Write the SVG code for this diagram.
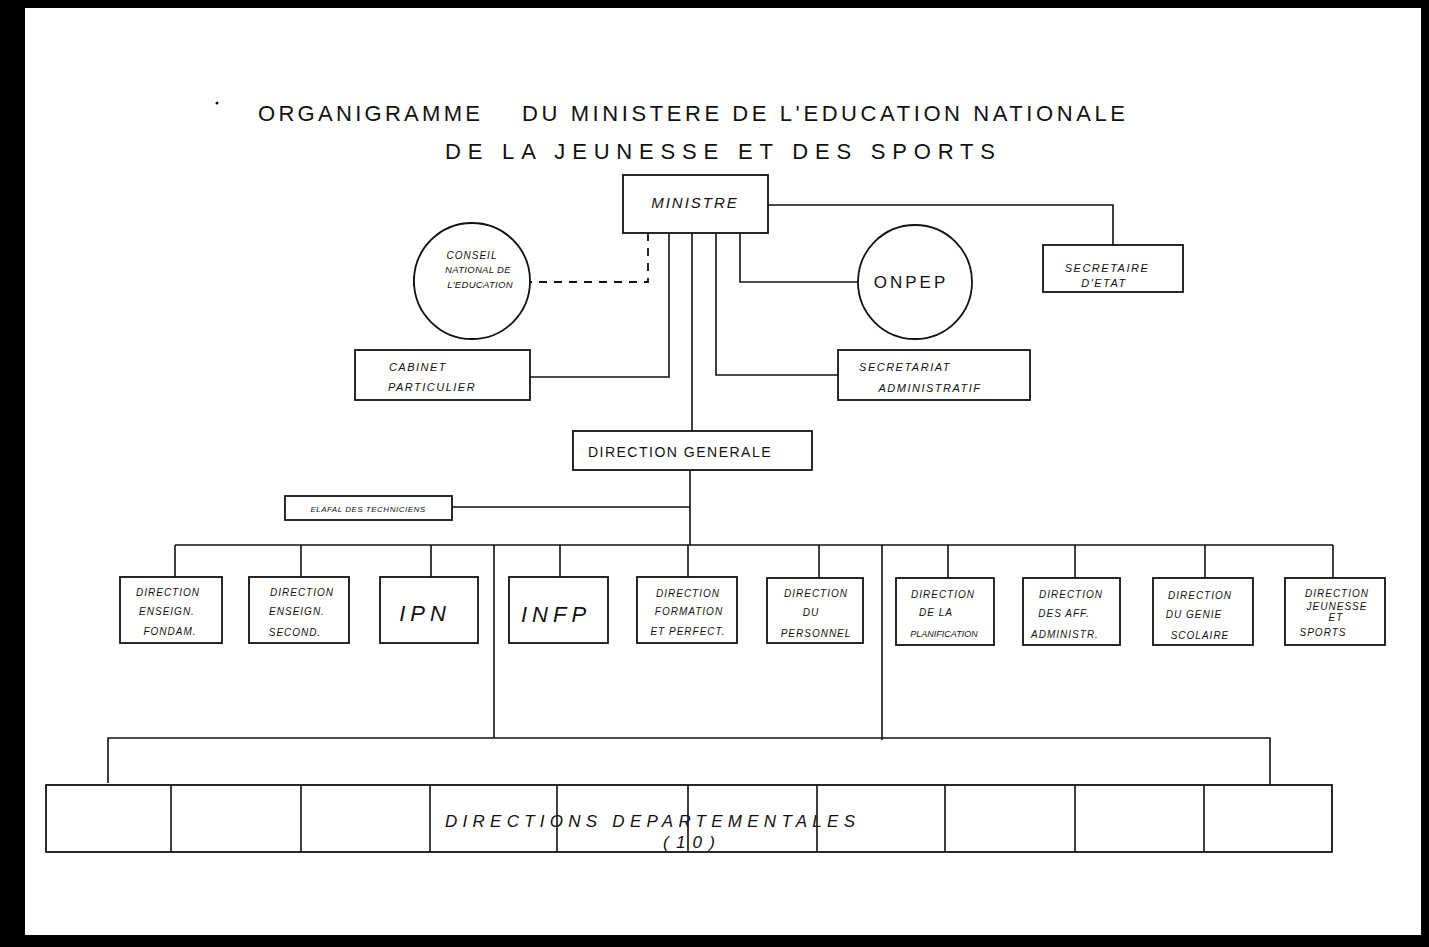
<svg xmlns="http://www.w3.org/2000/svg" width="1429" height="947" viewBox="0 0 1429 947">
<style>
.box{fill:#fff;stroke:#111;stroke-width:1.8}
.ln{fill:none;stroke:#111;stroke-width:1.6}
.dash{fill:none;stroke:#111;stroke-width:1.8;stroke-dasharray:8,7}
.t{font-family:"Liberation Sans",Arial,sans-serif;font-style:italic;fill:#111;text-anchor:middle}
.s{font-size:10px;letter-spacing:1px}
.m{font-size:11px;letter-spacing:1.5px}
.title{font-family:"Liberation Sans",Arial,sans-serif;font-size:22px;fill:#111}
.dd{font-family:"Liberation Sans",Arial,sans-serif;font-size:17px;font-style:italic;fill:#111}
</style>
<rect x="0" y="0" width="1429" height="947" fill="#000"/>
<rect x="25" y="8" width="1396" height="927" fill="#fff"/>

<g id="title">
<circle cx="217" cy="103" r="1.5" fill="#111"/>
<text class="title" x="258" y="121" textLength="222" lengthAdjust="spacing">ORGANIGRAMME</text>
<text class="title" x="522" y="121" textLength="603" lengthAdjust="spacing">DU MINISTERE DE L'EDUCATION NATIONALE</text>
<text class="title" x="445" y="159" textLength="550" lengthAdjust="spacing">DE LA JEUNESSE ET DES SPORTS</text>
</g>

<g id="connectors">
<path class="ln" d="M768 205 H1113 V245"/>
<path class="dash" d="M648 233 V282 H530"/>
<path class="ln" d="M669 233 V377 H530"/>
<path class="ln" d="M692 233 V431"/>
<path class="ln" d="M716 233 V375 H838"/>
<path class="ln" d="M740 233 V282 H858"/>
<path class="ln" d="M690 470 V545"/>
<path class="ln" d="M452 507 H690"/>
<path class="ln" d="M175 545 H1333"/>
<path class="ln" d="M175 545 V577 M301 545 V577 M431 545 V577 M560 545 V577 M688 545 V577 M819 545 V578 M948 545 V578 M1075 545 V578 M1205 545 V578 M1333 545 V578"/>
<path class="ln" d="M494 545 V738 M882 545 V740"/>
<path class="ln" d="M108 783 V738 H1270 V785"/>
<path class="ln" d="M414 276 V286"/>
</g>

<g id="ministre">
<rect class="box" x="623" y="175" width="145" height="58"/>
<text class="t" x="695" y="208" font-size="15" letter-spacing="2">MINISTRE</text>
</g>

<g id="secretaire-etat">
<rect class="box" x="1043" y="245" width="140" height="47"/>
<text class="t m" x="1107" y="272">SECRETAIRE</text>
<text class="t m" x="1104" y="287">D'ETAT</text>
</g>

<g id="conseil">
<circle class="box" cx="472" cy="281" r="58"/>
<text class="t" font-size="10" letter-spacing="1" x="472" y="259">CONSEIL</text>
<text class="t" font-size="9.5" letter-spacing="0.3" x="478" y="273">NATIONAL DE</text>
<text class="t" font-size="9.5" letter-spacing="0.3" x="480" y="288">L'EDUCATION</text>
</g>

<g id="onpep">
<circle class="box" cx="915" cy="282" r="57"/>
<text class="t" x="911" y="288" font-size="17" letter-spacing="3" style="font-style:normal">ONPEP</text>
</g>

<g id="cabinet">
<rect class="box" x="355" y="350" width="175" height="50"/>
<text class="t m" x="418" y="371">CABINET</text>
<text class="t m" x="432" y="391">PARTICULIER</text>
</g>

<g id="secretariat">
<rect class="box" x="838" y="350" width="192" height="50"/>
<text class="t m" x="905" y="371">SECRETARIAT</text>
<text class="t m" x="930" y="392">ADMINISTRATIF</text>
</g>

<g id="direction-generale">
<rect class="box" x="573" y="431" width="239" height="39"/>
<text class="t" x="680" y="457" font-size="14" letter-spacing="1.5" style="font-style:normal">DIRECTION GENERALE</text>
</g>

<g id="techniciens">
<rect class="box" x="285" y="496" width="167" height="24"/>
<text class="t" x="368" y="512" font-size="8" letter-spacing="0.5">ELAFAL DES TECHNICIENS</text>
</g>

<g id="dir-fondam">
<rect class="box" x="120" y="577" width="102" height="66"/>
<text class="t s" x="168" y="596">DIRECTION</text>
<text class="t s" x="167" y="615">ENSEIGN.</text>
<text class="t s" x="170" y="635">FONDAM.</text>
</g>
<g id="dir-second">
<rect class="box" x="249" y="577" width="100" height="66"/>
<text class="t s" x="302" y="596">DIRECTION</text>
<text class="t s" x="297" y="615">ENSEIGN.</text>
<text class="t s" x="295" y="636">SECOND.</text>
</g>
<g id="ipn">
<rect class="box" x="380" y="577" width="98" height="66"/>
<text class="t" x="425" y="621" font-size="22" letter-spacing="5">IPN</text>
</g>
<g id="infp">
<rect class="box" x="509" y="577" width="99" height="66"/>
<text class="t" x="556" y="622" font-size="22" letter-spacing="5">INFP</text>
</g>
<g id="dir-formation">
<rect class="box" x="637" y="577" width="100" height="66"/>
<text class="t s" x="688" y="597">DIRECTION</text>
<text class="t s" x="689" y="615">FORMATION</text>
<text class="t s" x="688" y="635">ET PERFECT.</text>
</g>
<g id="dir-personnel">
<rect class="box" x="767" y="578" width="96" height="65"/>
<text class="t s" x="816" y="597">DIRECTION</text>
<text class="t s" x="811" y="616">DU</text>
<text class="t s" x="816" y="637">PERSONNEL</text>
</g>
<g id="dir-planification">
<rect class="box" x="896" y="578" width="98" height="67"/>
<text class="t s" x="943" y="598">DIRECTION</text>
<text class="t s" x="936" y="616">DE LA</text>
<text class="t" font-size="9" x="944" y="637">PLANIFICATION</text>
</g>
<g id="dir-aff-admin">
<rect class="box" x="1023" y="578" width="97" height="67"/>
<text class="t s" x="1071" y="598">DIRECTION</text>
<text class="t s" x="1064" y="617">DES AFF.</text>
<text class="t s" x="1065" y="638">ADMINISTR.</text>
</g>
<g id="dir-genie">
<rect class="box" x="1153" y="578" width="100" height="67"/>
<text class="t s" x="1200" y="599">DIRECTION</text>
<text class="t s" x="1194" y="618">DU GENIE</text>
<text class="t s" x="1200" y="639">SCOLAIRE</text>
</g>
<g id="dir-jeunesse">
<rect class="box" x="1285" y="578" width="100" height="67"/>
<text class="t s" x="1337" y="597">DIRECTION</text>
<text class="t s" x="1337" y="610">JEUNESSE</text>
<text class="t s" x="1336" y="621">ET</text>
<text class="t s" x="1323" y="636">SPORTS</text>
</g>

<g id="directions-departementales">
<rect class="box" x="46" y="785" width="1286" height="67"/>
<path class="ln" d="M171 785 V852 M301 785 V852 M430 785 V852 M557 785 V852 M688 785 V852 M817 785 V852 M945 785 V852 M1075 785 V852 M1204 785 V852"/>
<text class="dd" x="445" y="827" textLength="410" lengthAdjust="spacing">DIRECTIONS DEPARTEMENTALES</text>
<text class="dd" x="663" y="848" textLength="52" lengthAdjust="spacing">( 1  0 )</text>
</g>
</svg>
